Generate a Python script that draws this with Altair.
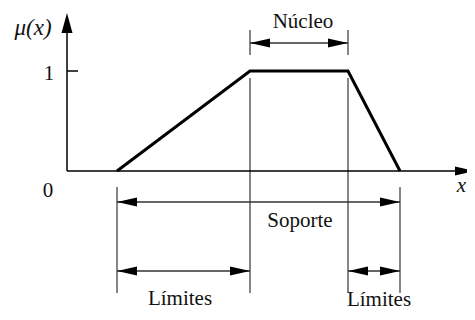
import altair as alt
import pandas as pd

# ---- data (in chart units: x = support axis, y = membership) ----
trap_x = [1.0, 3.66, 5.62, 6.66]
trap_y = [0.0, 1.0, 1.0, 0.0]

# axis lines and tick at mu = 1
axis_x1 = [0.0, 0.0, 0.0]
axis_x2 = [8.0, 0.0, 0.22]
axis_y1 = [0.0, 0.0, 1.0]
axis_y2 = [0.0, 1.45, 1.0]

# vertical guide lines
guide_x = [1.0, 3.66, 5.62, 6.66, 3.66, 5.62]
guide_y1 = [-0.16, 0.93, 0.93, -0.16, 1.16, 1.16]
guide_y2 = [-1.22, -1.22, -1.22, -1.22, 1.41, 1.41]

# double-headed dimension arrows
dim_y = [1.28, -0.31, -1.0, -1.0]
dim_x1 = [3.66, 1.0, 1.0, 5.62]
dim_x2 = [5.62, 6.66, 3.66, 6.66]

# labels
lab_text = ["Núcleo", "Soporte", "Límites", "Límites", "1", "0"]
lab_x = [4.72, 4.66, 2.26, 6.24, -0.36, -0.38]
lab_y = [1.43, -0.56, -1.34, -1.35, 0.91, -0.26]

ital_text = ["μ(x)", "x"]
ital_x = [-0.68, 7.98]
ital_y = [1.36, -0.21]
ital_align = ["center", "right"]

# ---- scales ----
W, H = 459, 304
xs = alt.Scale(domain=[-1.18, -1.18 + W / 50], nice=False, zero=False)
ys = alt.Scale(domain=[1.63 - H / 100, 1.63], nice=False, zero=False)
FONT = "Liberation Serif"

trap = pd.DataFrame({"x": trap_x, "y": trap_y})
axes = pd.DataFrame({"x": axis_x1, "x2": axis_x2, "y": axis_y1, "y2": axis_y2})
guides = pd.DataFrame({"x": guide_x, "y": guide_y1, "y2": guide_y2})
dims = pd.DataFrame({"x": dim_x1, "x2": dim_x2, "y": dim_y})

heads = pd.DataFrame({
    "x": dim_x1 + dim_x2 + [8.16, 0.0],
    "y": dim_y + dim_y + [0.0, 1.58],
    "dir": ["L"] * len(dim_x1) + ["R"] * len(dim_x2) + ["R", "U"],
})
labs = pd.DataFrame({"t": lab_text, "x": lab_x, "y": lab_y})
itals = pd.DataFrame({"t": ital_text, "x": ital_x, "y": ital_y, "a": ital_align})

X = lambda f="x": alt.X(f"{f}:Q", scale=xs, axis=None)
Y = lambda f="y": alt.Y(f"{f}:Q", scale=ys, axis=None)

trap_layer = alt.Chart(trap).mark_line(color="black", strokeWidth=3).encode(
    x=X(), y=Y(), order="x:Q")

axis_layer = alt.Chart(axes).mark_rule(color="black", strokeWidth=1.5).encode(
    x=X(), x2="x2:Q", y=Y(), y2="y2:Q")

guide_layer = alt.Chart(guides).mark_rule(color="#444444", strokeWidth=1.3).encode(
    x=X(), y=Y(), y2="y2:Q")

dim_layer = alt.Chart(dims).mark_rule(color="#333333", strokeWidth=1.5).encode(
    x=X(), x2="x2:Q", y=Y())

pathL = "M0,0 L2,-0.45 L2,0.45 Z"
pathR = "M0,0 L-2,-0.45 L-2,0.45 Z"
pathU = "M0,0 L-0.55,2 L0.55,2 Z"
head_layer = alt.Chart(heads).mark_point(
    filled=True, size=400, opacity=1, color="black", strokeWidth=0
).encode(
    x=X(), y=Y(),
    shape=alt.Shape("dir:N", scale=alt.Scale(domain=["L", "R", "U"], range=[pathL, pathR, pathU]), legend=None),
)

text_layer = alt.Chart(labs).mark_text(
    font=FONT, fontSize=21, color="#111111", baseline="alphabetic", align="center"
).encode(x=X(), y=Y(), text="t:N")

ital_layer = alt.Chart(itals[itals["a"] == "center"]).mark_text(
    font=FONT, fontSize=23, fontStyle="italic", color="#111111", baseline="alphabetic", align="center"
).encode(x=X(), y=Y(), text="t:N")

ital_right = alt.Chart(itals[itals["a"] == "right"]).mark_text(
    font=FONT, fontSize=21, fontStyle="italic", color="#111111", baseline="alphabetic", align="right"
).encode(x=X(), y=Y(), text="t:N")

chart = alt.layer(
    guide_layer, dim_layer, axis_layer, trap_layer, head_layer, text_layer, ital_layer, ital_right
).properties(width=W, height=H, padding=0, autosize="none").configure_view(stroke=None)

chart.save("out.html", embed_options={"renderer": "svg", "actions": False})
